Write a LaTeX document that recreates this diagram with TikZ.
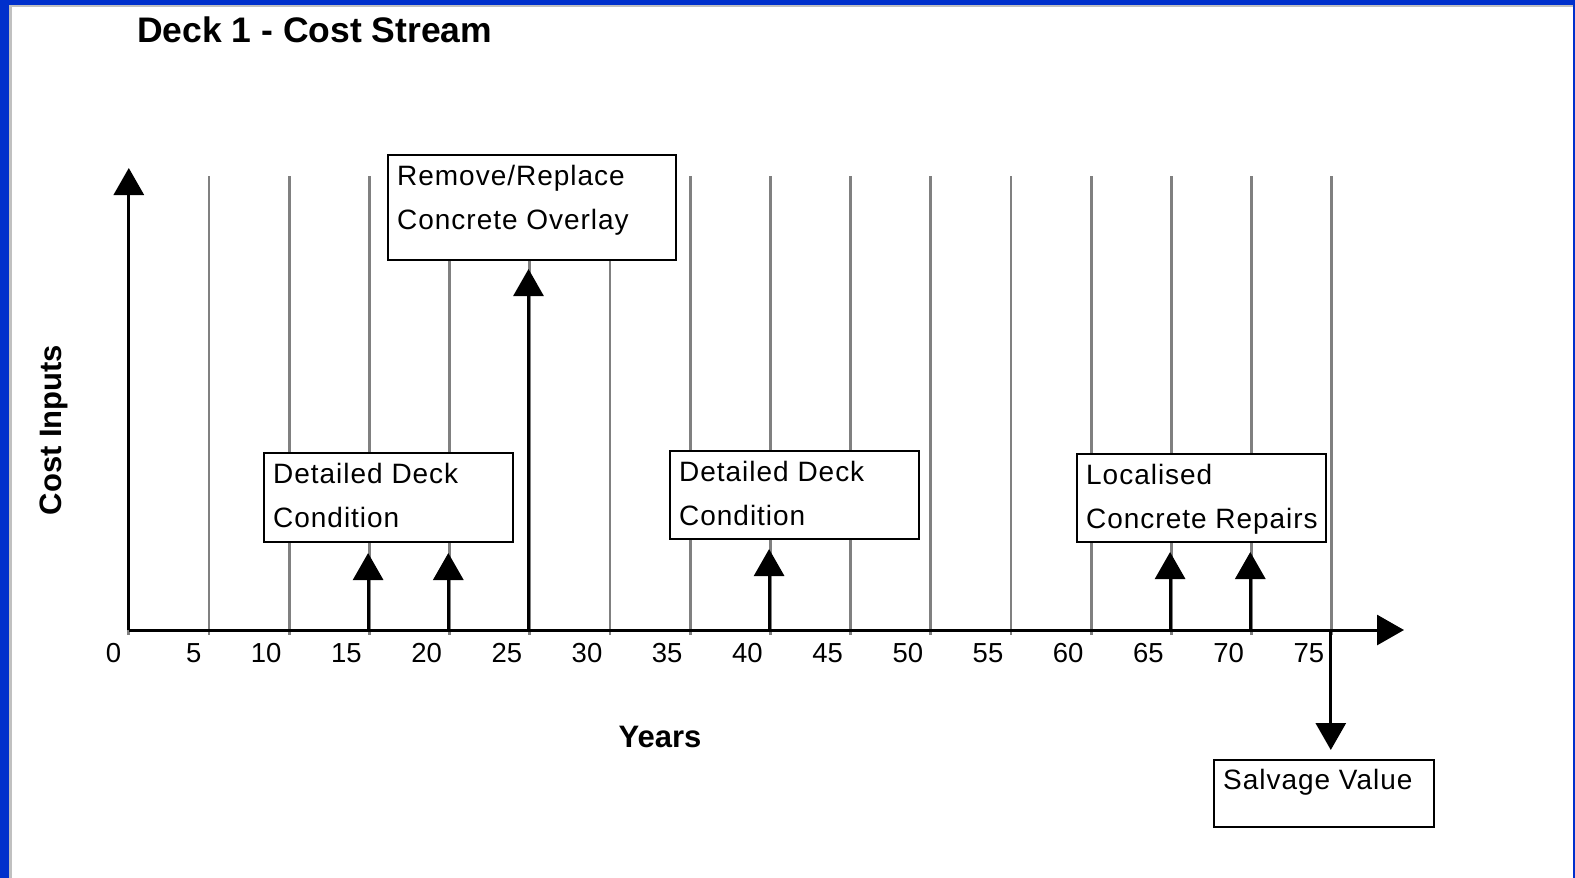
\documentclass[tikz,border=0pt]{standalone}
\usepackage{fontspec}
\setmainfont{Liberation Sans}
\newfontfamily\boxfont[LetterSpace=3.5]{Liberation Sans}
\usetikzlibrary{arrows.meta}
\definecolor{frameblue}{RGB}{0,48,204}
\definecolor{framegray}{RGB}{192,192,192}
\definecolor{gridgray}{RGB}{128,128,128}
\begin{document}
\begin{tikzpicture}[x=1pt,y=-1pt,
  gridln/.style={gridgray, line width=2.8pt},
  axisln/.style={black, line width=3pt},
  uptip/.style={-{Triangle[length=27pt,width=30pt]}},
  boxst/.style={draw=black, fill=white, line width=2pt, rectangle, inner sep=0pt, anchor=north west},
  boxtxt/.style={anchor=base west, inner sep=0pt, font=\boxfont\fontsize{28}{32}\selectfont},
  ticklab/.style={anchor=base east, inner sep=0pt, font=\fontsize{27.5}{32}\selectfont},
  axlab/.style={inner sep=0pt, font=\bfseries\fontsize{31}{36}\selectfont},
]
\useasboundingbox (0,0) rectangle (1575,878);
% frame
\fill[white] (0,0) rectangle (1575,878);
\fill[frameblue] (0,0) rectangle (1575,5);
\fill[frameblue] (0,0) rectangle (9,878);
\fill[frameblue] (1573.3,0) rectangle (1575,878);
\fill[framegray] (9,5) rectangle (1573.3,7.3);
\fill[framegray] (9,5) rectangle (11.7,878);

% title
\node[anchor=base west, inner sep=0pt, font=\bfseries\fontsize{35.5}{40}\selectfont] (title) at (137,42) {Deck 1 - Cost Stream};

% grid lines
\foreach \k in {0,...,15}{
  \draw[gridln] ({128.8+80.2*\k},176) -- ({128.8+80.2*\k},635);
}
% tick labels
\foreach \k in {0,...,15}{
  \pgfmathtruncatemacro\yv{5*\k}
  \node[ticklab] (t\k) at ({128.8+80.2*\k-7.5},662) {\yv};
}

% axes
\coordinate (O) at (128.8,630);
\coordinate (ytip) at (128.8,168);
\coordinate (xtip) at (1404,630);
\draw[axisln,uptip] (O) -- (ytip);
\draw[axisln,uptip] (O) -- (xtip);

% axis labels
\node[axlab, anchor=base] (years) at (660,747) {Years};
\node[axlab, anchor=base, rotate=90] (cost) at (61,430) {Cost Inputs};

% boxes
\node[boxst, minimum width=249pt, minimum height=89pt] (b1) at (263,452) {};
\node[boxst, minimum width=288pt, minimum height=105pt] (b2) at (387,154) {};
\node[boxst, minimum width=249pt, minimum height=88pt] (b3) at (669,450) {};
\node[boxst, minimum width=249pt, minimum height=88pt] (b4) at (1076,453) {};
\node[boxst, minimum width=220pt, minimum height=67pt] (b5) at (1213,759) {};

\node[boxtxt] (b1a) at ([shift={(10,31)}]b1.north west) {Detailed Deck};
\node[boxtxt] (b1b) at ([shift={(10,75)}]b1.north west) {Condition};
\node[boxtxt] (b2a) at ([shift={(10,31.5)}]b2.north west) {Remove/Replace};
\node[boxtxt] (b2b) at ([shift={(10,75.5)}]b2.north west) {Concrete Overlay};
\node[boxtxt] (b3a) at ([shift={(10,31)}]b3.north west) {Detailed Deck};
\node[boxtxt] (b3b) at ([shift={(10,75)}]b3.north west) {Condition};
\node[boxtxt] (b4a) at ([shift={(10,31)}]b4.north west) {Localised};
\node[boxtxt] (b4b) at ([shift={(10,75)}]b4.north west) {Concrete Repairs};
\node[boxtxt] (b5a) at ([shift={(10,30)}]b5.north west) {Salvage Value};

% cost event arrows
\foreach \k/\ty in {3/553, 4/553, 5/269, 8/549, 13/552, 14/552}{
  \coordinate (e\k) at ({128.8+80.2*\k-1.3},630);
  \coordinate (f\k) at ({128.8+80.2*\k-1.3},\ty);
  \draw[axisln,uptip] (e\k) -- (f\k);
}

% salvage arrow
\coordinate (s0) at (1330.8,630);
\coordinate (s1) at (1330.8,750);
\draw[axisln,uptip] (s0) -- (s1);
\end{tikzpicture}
\end{document}
